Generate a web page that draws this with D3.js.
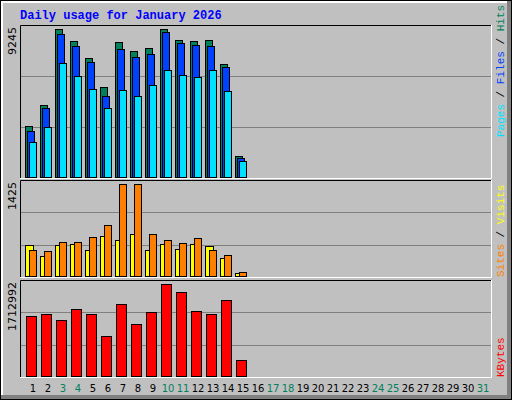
<!DOCTYPE html>
<html><head><meta charset="utf-8">
<script src="https://cdn.jsdelivr.net/npm/d3@7"></script>
<style>body{margin:0;background:#fff}</style>
</head><body><div id="chart"></div>
<script>
// Values
var days = d3.range(1, 32);
var weekends = [3, 4, 10, 11, 17, 18, 24, 25, 31];
var hits  = [3230, 4541, 9245, 8477, 7415, 5666, 8414, 7852, 8039, 9245, 8539, 8477, 8539, 7103, 1355];
var files = [2917, 4354, 8933, 8164, 7227, 5103, 7977, 7477, 7665, 9040, 8352, 8227, 8164, 6915, 1270];
var pages = [2230, 3167, 7121, 6353, 5540, 4354, 5478, 5103, 5791, 6728, 6415, 6290, 6728, 5416, 1042];
var visits = [496, 325, 496, 511, 418, 635, 573, 666, 418, 511, 434, 511, 480, 294, 62];
var sites  = [418, 403, 542, 542, 620, 790, 1425, 1425, 666, 573, 527, 604, 418, 341, 77];
var kbytes = [1129445, 1167095, 1054149, 1261215, 1167095, 752963, 1336510, 978853, 1204741, 1712992, 1562402, 1223566, 1167095, 1411807, 320010];

var svgWidth = 512, svgHeight = 400;
var svg = d3.select("#chart").append("svg").attr("width", svgWidth).attr("height", svgHeight)
    .style("display", "block");

// outer frame
svg.append("rect").attr("width", 512).attr("height", 400).attr("fill", "#000");
svg.append("rect").attr("x", 1).attr("y", 1).attr("width", 510).attr("height", 398).attr("fill", "#808080");
svg.append("rect").attr("x", 1).attr("y", 1).attr("width", 506).attr("height", 394).attr("fill", "#fff");
svg.append("rect").attr("x", 3).attr("y", 3).attr("width", 504).attr("height", 392).attr("fill", "#c0c0c0");

svg.append("text").attr("x", 20).attr("y", 19).text("Daily usage for January 2026")
    .attr("font-family", "Liberation Mono, DejaVu Sans Mono, monospace").attr("font-weight", "bold")
    .attr("font-size", 12).attr("fill", "#0000ff");

var x = d3.scaleLinear().domain([1, 31]).range([25, 475]);
var left = 20, right = 491;

var panels = [
    {top: 25, bottom: 178, max: 9245, label: "9245"},
    {top: 180, bottom: 277, max: 1425, label: "1425"},
    {top: 280, bottom: 377, max: 1712992, label: "1712992"}
];

panels.forEach(function(p) {
    p.y = d3.scaleLinear().domain([0, p.max]).range([p.bottom, p.top + 4]);
    var g = svg.append("g");
    g.append("rect").attr("x", left).attr("y", p.top).attr("width", right - left).attr("height", p.bottom - p.top)
        .attr("fill", "#c0c0c0").attr("stroke", "none");
    var h = p.bottom - p.top;
    [1 / 3, 2 / 3].forEach(function(f) {
        g.append("line").attr("x1", left).attr("x2", right)
            .attr("y1", Math.round(p.top + h * f) + 0.5).attr("y2", Math.round(p.top + h * f) + 0.5)
            .attr("stroke", "#808080");
    });
    // 3D box: black top/left, white bottom/right
    g.append("path").attr("d", `M${left + .5},${p.bottom}V${p.top + .5}H${right}`).attr("fill", "none").attr("stroke", "#000");
    g.append("path").attr("d", `M${left},${p.bottom + .5}H${right + .5}V${p.top}`).attr("fill", "none").attr("stroke", "#fff");
    g.append("text").attr("transform", `translate(16,${p.top + 2}) rotate(-90)`)
        .attr("text-anchor", "end").attr("font-family", "DejaVu Sans, sans-serif").attr("font-size", 11)
        .text(p.label);
});

function bars(data, p, dx, w, color) {
    svg.append("g").selectAll("rect").data(data).join("rect")
        .attr("x", (d, i) => x(i + 1) + dx + 0.5)
        .attr("y", d => Math.round(p.y(d)) + 0.5)
        .attr("width", w)
        .attr("height", d => p.bottom - Math.round(p.y(d)) - 1)
        .attr("fill", color).attr("stroke", "#000");
}
bars(hits, panels[0], 0, 7, "#00805c");
bars(files, panels[0], 2, 7, "#0040ff");
bars(pages, panels[0], 4, 7, "#00e0ff");
bars(visits, panels[1], 0, 8, "#ffff00");
bars(sites, panels[1], 4, 7, "#ff8000");
bars(kbytes, panels[2], 1, 10, "#ff0000");

// day labels
svg.append("g").selectAll("text").data(days).join("text")
    .attr("x", d => x(d) + 8).attr("y", 392).attr("text-anchor", "middle")
    .attr("font-family", "DejaVu Sans, sans-serif").attr("font-size", 10)
    .attr("fill", d => weekends.includes(d) ? "#00805c" : "#000")
    .text(d => d);

// right side legends
function legend(parts, yBottom) {
    var t = svg.append("text").attr("transform", `translate(504,${yBottom}) rotate(-90)`)
        .attr("font-family", "Liberation Mono, DejaVu Sans Mono, monospace").attr("font-size", 11);
    parts.forEach(function(pt) { t.append("tspan").attr("fill", pt[1]).text(pt[0]); });
}
legend([["Pages", "#00e0ff"], [" / ", "#000"], ["Files", "#0040ff"], [" / ", "#000"], ["Hits", "#00805c"]], 137);
legend([["Sites", "#ff8000"], [" / ", "#000"], ["Visits", "#ffff00"]], 277);
legend([["KBytes", "#ff0000"]], 377);
</script></body></html>
